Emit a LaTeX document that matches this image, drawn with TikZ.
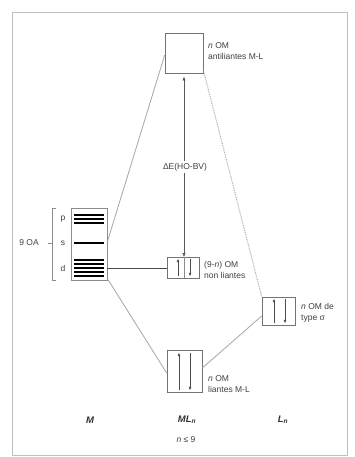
\documentclass[tikz,border=0pt]{standalone}
\usepackage{fontspec}
\setmainfont{Liberation Sans}
\usetikzlibrary{arrows.meta}
\begin{document}
\begin{tikzpicture}[x=1pt,y=-1pt,
  lbl/.style={font=\fontsize{8.5}{10.5}\selectfont, text=black!75, inner sep=0pt, align=left, anchor=west},
  omb/.style={draw=black!55, line width=0.6pt, inner sep=0pt},
  conn/.style={draw=black!35, line width=0.8pt},
  spin/.style={draw=black!70, line width=0.5pt, -{Triangle[length=3.2pt,width=2.6pt]}},
  lev/.style={draw=black, line width=1.4pt},
  big/.style={font=\fontsize{9.5}{11}\selectfont\bfseries\itshape, text=black!80, inner sep=0pt}]
\useasboundingbox (0,0) rectangle (354,457);
\fill[white] (0,0) rectangle (354,457);
\draw[black!25, line width=1pt] (12,13) rectangle (347,455);

% MO boxes
\node[omb, minimum width=38pt, minimum height=40pt] (anti) at (184,53) {};
\node[omb, minimum width=32pt, minimum height=21pt] (nonb) at (183,267.5) {};
\node[omb, minimum width=35pt, minimum height=42pt] (bond) at (184.5,371) {};
\node[omb, minimum width=33pt, minimum height=28pt] (lig) at (278.5,311) {};

% metal AO block
\node[draw=black!45, line width=0.5pt, minimum width=36pt, minimum height=72pt, inner sep=0pt] (met) at (89,244) {};
\foreach \y in {215,219,223} \draw[lev] (74,\y) -- (104,\y);
\draw[lev] (74,243) -- (104,243);
\foreach \y in {260,264,268,272,276} \draw[lev] (74,\y) -- (104,\y);
\coordinate (ms) at (107,243);
\coordinate (md) at (107,268);
\coordinate (mb) at (107,278);
\coordinate (ya) at (0,55);
\coordinate (yb) at (0,373);
\coordinate (yc) at (0,70);
\coordinate (yd) at (0,368);
\coordinate (ye) at (0,316);
\coordinate (dv) at (184,0);

% brace
\draw[black!45, line width=0.6pt] (56,208) -- (52,208) -- (52,280) -- (56,280);
\draw[black!45, line width=0.6pt] (52,243) -- (48,243);
\node[lbl, anchor=center] (oa) at (29,243) {9 OA};
\node[lbl, anchor=center] (lp) at (63,219) {p};
\node[lbl, anchor=center] (ls) at (63,243) {s};
\node[lbl, anchor=center] (ld) at (63,268) {d};

% connectors
\draw[conn] (ms) -- (anti.west |- ya);
\draw[black!70, line width=0.6pt] (md) -- (nonb.west |- md);
\draw[conn] (mb) -- (bond.west |- yb);
\draw[conn, densely dotted, line width=1pt] (anti.east |- yc) -- (lig.north west);
\draw[conn] (bond.east |- yd) -- (lig.west |- ye);

% Delta E arrow
\coordinate (dt) at (184,77);
\draw[black!65, line width=0.5pt, {Triangle[length=3.5pt,width=3pt]}-{Triangle[length=3.5pt,width=3pt]}] (dt) -- (nonb.north -| dt);
\node[lbl, anchor=center, fill=white, inner sep=2pt] (de) at (185,167) {ΔE(HO-BV)};

% divider and spins in nonbonding
\draw[black!45, line width=0.4pt] (nonb.north -| dv) -- (nonb.south -| dv);
\draw[spin] (178,276) -- (178,259);
\draw[spin] (190,259) -- (190,276);
% bonding spins
\draw[spin] (179,390) -- (179,353);
\draw[spin] (190,353) -- (190,390);
% ligand spins
\draw[spin] (274,323) -- (274,299);
\draw[spin] (285,299) -- (285,323);

% labels
\node[lbl] (ta) at (208,51) {\textit{n} OM\\antiliantes M-L};
\node[lbl] (tn) at (204,270) {(9-\textit{n}) OM\\non liantes};
\node[lbl] (tl) at (301,313) {\textit{n} OM de\\type σ};
\node[lbl] (tb) at (208,384) {\textit{n} OM\\liantes M-L};

\node[big] (M) at (90,420) {M};
\node[big] (MLn) at (187,420) {ML\textsubscript{\textit{n}}};
\node[big] (Ln) at (283,420) {L\textsubscript{\textit{n}}};
\node[lbl, anchor=center] (cond) at (186,440) {\textit{n} ≤ 9};
\end{tikzpicture}
\end{document}
